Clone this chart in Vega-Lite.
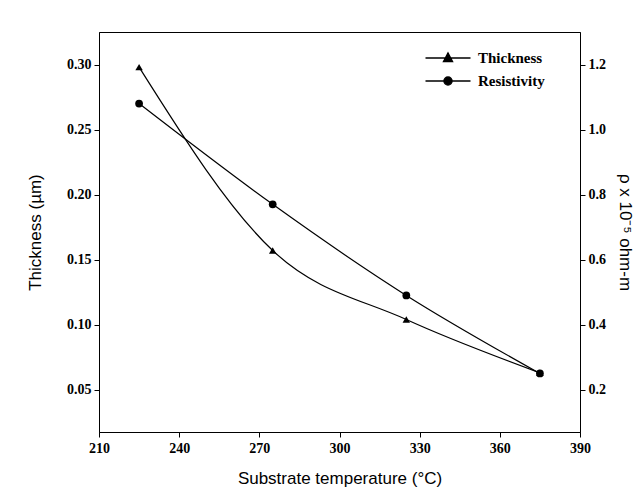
{
  "$schema": "https://vega.github.io/schema/vega-lite/v6.json",
  "autosize": {"type": "none"},
  "padding": {"left": 99, "top": 32, "right": 63, "bottom": 66},
  "width": 481,
  "height": 400,
  "background": "white",
  "data": {
    "values": [
      {"T": 225, "series": "Thickness", "value": 0.298},
      {"T": 275, "series": "Thickness", "value": 0.157},
      {"T": 325, "series": "Thickness", "value": 0.104},
      {"T": 375, "series": "Thickness", "value": 0.063},
      {"T": 225, "series": "Resistivity", "value": 1.08},
      {"T": 275, "series": "Resistivity", "value": 0.77},
      {"T": 325, "series": "Resistivity", "value": 0.49},
      {"T": 375, "series": "Resistivity", "value": 0.25}
    ]
  },
  "encoding": {
    "x": {
      "field": "T", "type": "quantitative",
      "scale": {"domain": [210, 390], "nice": false, "zero": false},
      "axis": {
        "values": [210, 240, 270, 300, 330, 360, 390],
        "title": "Substrate temperature (°C)",
        "grid": false, "domainColor": "black", "tickColor": "black", "tickSize": 5,
        "labelFont": "Liberation Serif", "labelFontWeight": "bold", "labelFontSize": 14, "labelColor": "black",
        "labelPadding": 4, "labelFlush": false,
        "titleFont": "Liberation Sans", "titleFontSize": 17, "titleFontWeight": "normal", "titleColor": "black",
        "titlePadding": 15
      }
    }
  },
  "layer": [
    {
      "encoding": {
        "y": {
          "field": "value", "type": "quantitative",
          "scale": {"domain": [0.0175, 0.325], "nice": false, "zero": false},
          "axis": {
            "orient": "left",
            "values": [0.05, 0.1, 0.15, 0.2, 0.25, 0.3],
            "format": ".2f",
            "title": "Thickness (µm)",
            "grid": false, "domainColor": "black", "tickColor": "black", "tickSize": 5,
            "labelFont": "Liberation Serif", "labelFontWeight": "bold", "labelFontSize": 14, "labelColor": "black",
            "labelPadding": 3,
            "titleFont": "Liberation Sans", "titleFontSize": 17, "titleFontWeight": "normal", "titleColor": "black",
            "titlePadding": 22
          }
        }
      },
      "layer": [
        {
          "transform": [{"filter": "datum.series === 'Thickness'"}],
          "mark": {"type": "line", "color": "black", "strokeWidth": 1.2, "interpolate": "monotone"}
        },
        {
          "transform": [{"filter": "datum.series === 'Thickness'"}],
          "mark": {"type": "point", "shape": "triangle-up", "filled": true, "color": "black", "size": 55, "opacity": 1}
        },
        {
          "transform": [{"filter": "datum.T === 225"}],
          "mark": {"type": "point", "filled": false, "color": "black", "opacity": 0, "strokeWidth": 1.4, "clip": true},
          "encoding": {
            "shape": {
              "field": "series", "type": "nominal",
              "scale": {
                "domain": ["Thickness", "Resistivity"],
                "range": [
                  "M-2.5,0L2.5,0M-0.5,0.4L0,-0.55L0.5,0.4Z",
                  "M-2.5,0L2.5,0M0.45,0A0.45,0.45,0,1,1,-0.45,0A0.45,0.45,0,1,1,0.45,0Z"
                ]
              },
              "legend": {
                "title": null,
                "orient": "none",
                "legendX": 339,
                "legendY": 16,
                "padding": 0,
                "symbolSize": 324,
                "rowPadding": 5,
                "labelOffset": 20,
                "symbolOpacity": 1,
                "symbolStrokeColor": "black",
                "symbolStrokeWidth": 1.4,
                "labelFont": "Liberation Serif", "labelFontWeight": "bold", "labelFontSize": 15, "labelColor": "black"
              }
            }
          }
        },
        {
          "transform": [{"filter": "datum.T === 225"}],
          "mark": {"type": "point", "filled": true, "color": "black", "opacity": 0, "clip": true},
          "encoding": {
            "shape": {
              "field": "series", "type": "nominal",
              "legend": {
                "title": null,
                "orient": "none",
                "legendX": 339,
                "legendY": 16,
                "padding": 0,
                "symbolSize": 324,
                "rowPadding": 5,
                "labelOffset": 20,
                "symbolOpacity": 1,
                "symbolFillColor": "black",
                "labelOpacity": 0,
                "labelFont": "Liberation Serif", "labelFontWeight": "bold", "labelFontSize": 15, "labelColor": "black"
              }
            }
          }
        }
      ],
      "resolve": {"legend": {"shape": "independent"}}
    },
    {
      "transform": [{"filter": "datum.series === 'Resistivity'"}],
      "encoding": {
        "y": {
          "field": "value", "type": "quantitative",
          "scale": {"domain": [0.07, 1.3], "nice": false, "zero": false},
          "axis": {
            "orient": "right",
            "values": [0.2, 0.4, 0.6, 0.8, 1.0, 1.2],
            "format": ".1f",
            "title": "ρ x 10⁻⁵ ohm-m",
            "grid": false, "domainColor": "black", "tickColor": "black", "tickSize": 5,
            "labelFont": "Liberation Serif", "labelFontWeight": "bold", "labelFontSize": 14, "labelColor": "black",
            "labelPadding": 3,
            "titleFont": "Liberation Sans", "titleFontSize": 17, "titleFontWeight": "normal", "titleColor": "black",
            "titlePadding": 10
          }
        }
      },
      "layer": [
        {"mark": {"type": "line", "color": "black", "strokeWidth": 1.2, "interpolate": "monotone"}},
        {"mark": {"type": "point", "shape": "circle", "filled": true, "color": "black", "size": 60, "opacity": 1}}
      ]
    }
  ],
  "resolve": {"scale": {"y": "independent"}},
  "config": {
    "view": {"stroke": "black", "strokeWidth": 1}
  }
}
